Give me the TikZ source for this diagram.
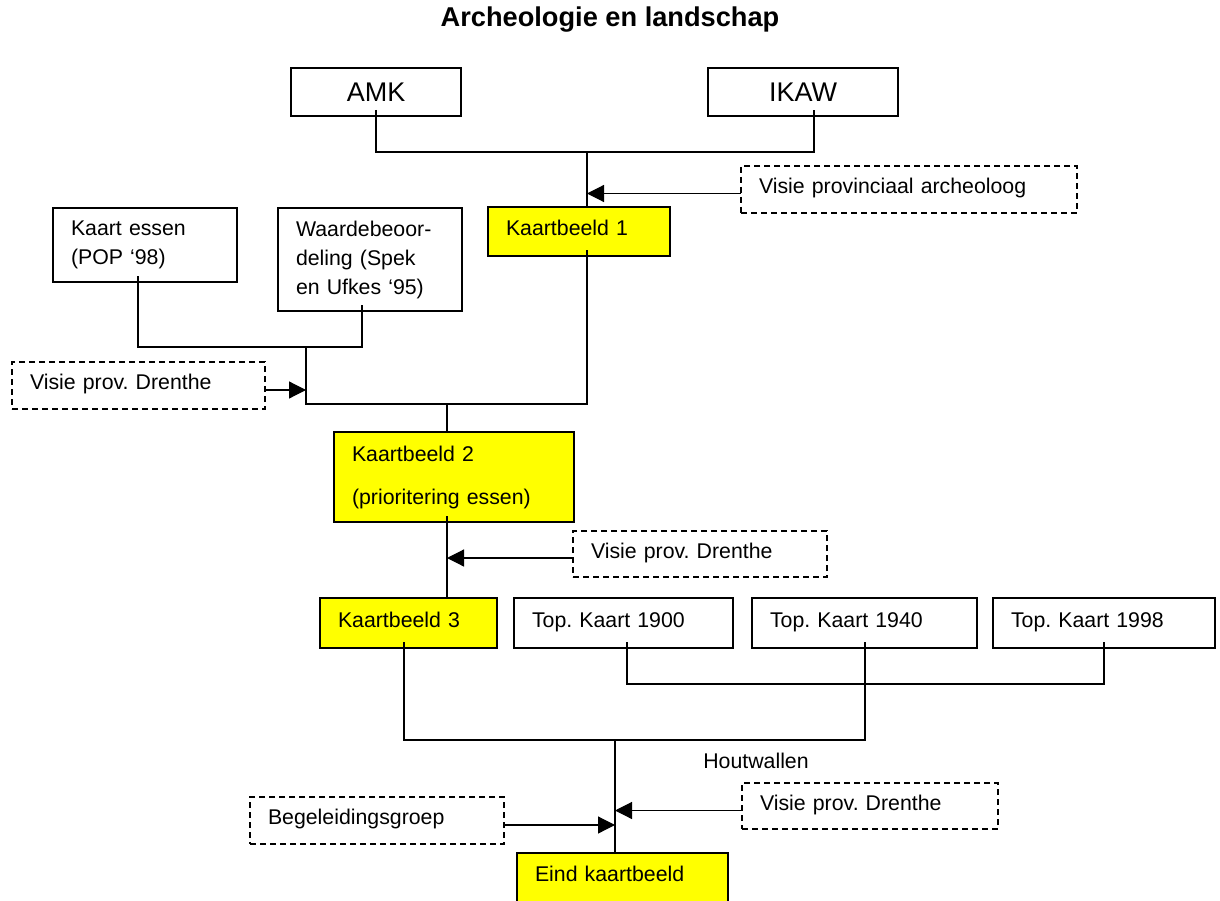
\documentclass[tikz,border=0pt]{standalone}
\usepackage{fontspec}
\setmainfont{Liberation Sans}
\usetikzlibrary{arrows.meta,calc}
\definecolor{yelfill}{HTML}{FFFF00}
\frenchspacing
\tikzset{
  base/.style={draw, line width=1.2pt, inner xsep=18pt, inner ysep=0pt, outer sep=0pt,
    anchor=north west, align=left, font=\fontsize{21.3}{29}\selectfont},
  one/.style={text height=15.3pt, text depth=7pt},
  plainbox/.style={base, fill=white},
  yelbox/.style={base, fill=yelfill},
  dashbox/.style={base, dash pattern=on 6pt off 4pt},
  conn/.style={line width=1.2pt},
  arr/.style={line width=1.2pt, -{Triangle[length=17pt, width=17pt]}},
}
\begin{document}
\begin{tikzpicture}[x=1pt, y=-1pt]
\useasboundingbox (0,0) rectangle (1220,901);

\node[font=\fontsize{27.2}{32}\selectfont\bfseries] (title) at (610,20) {Archeologie en landschap};

% top boxes
\node[plainbox, align=center, font=\fontsize{27}{32}\selectfont, minimum width=170pt, minimum height=48pt, text width=134pt] (amk) at (291,68) {AMK};
\node[plainbox, align=center, font=\fontsize{27}{32}\selectfont, minimum width=190pt, minimum height=48pt, text width=154pt] (ikaw) at (708,68) {IKAW};

\node[dashbox, one, minimum width=336pt, minimum height=47pt, text width=300pt] (va) at (741,166) {Visie provinciaal archeoloog};
\node[yelbox, one, minimum width=182pt, minimum height=49pt, text width=146pt] (k1) at (488,207) {Kaartbeeld 1};

\node[plainbox, minimum width=184pt, minimum height=74pt, text width=148pt] (ke) at (53,208) {Kaart essen\\(POP ‘98)};
\node[plainbox, minimum width=184pt, minimum height=103pt, text width=148pt] (wa) at (278,208) {Waardebeoor-\\deling (Spek\\en Ufkes ‘95)};

\node[dashbox, one, minimum width=253pt, minimum height=47pt, text width=217pt] (vd1) at (12,362) {Visie prov. Drenthe};

\node[yelbox, minimum width=240pt, minimum height=90pt, text width=204pt] (k2) at (334,432) {Kaartbeeld 2\\[14pt](prioritering essen)};

\node[dashbox, one, minimum width=254pt, minimum height=46pt, text width=218pt] (vd2) at (573,531) {Visie prov. Drenthe};

\node[yelbox, one, minimum width=177pt, minimum height=50pt, text width=141pt] (k3) at (320,598) {Kaartbeeld 3};
\node[plainbox, one, minimum width=219pt, minimum height=50pt, text width=183pt] (t1) at (514,598) {Top. Kaart 1900};
\node[plainbox, one, minimum width=225pt, minimum height=50pt, text width=189pt] (t2) at (752,598) {Top. Kaart 1940};
\node[plainbox, one, minimum width=222pt, minimum height=50pt, text width=186pt] (t3) at (993,598) {Top. Kaart 1998};

\node[font=\fontsize{21.3}{29}\selectfont] (hw) at (756,761) {Houtwallen};

\node[dashbox, one, minimum width=256pt, minimum height=46pt, text width=220pt] (vd3) at (742,783) {Visie prov. Drenthe};
\node[dashbox, one, minimum width=254pt, minimum height=47pt, text width=218pt] (bg) at (250,797) {Begeleidingsgroep};
\node[yelbox, one, minimum width=211pt, minimum height=49pt, text width=175pt] (eind) at (517,853) {Eind kaartbeeld};

% junctions
\coordinate (j1) at (587,152);
\coordinate (j2) at (306,347);
\coordinate (j3) at (306,404);
\coordinate (j4) at (447,404);
\coordinate (j6) at (865,684);
\coordinate (j5) at (615,740);

% connector start points inside boxes
\coordinate (amkb) at ([yshift=6pt]amk.south);
\coordinate (ikawb) at ([xshift=11pt,yshift=6pt]ikaw.south);
\coordinate (k1b) at ([xshift=8pt,yshift=6pt]k1.south);
\coordinate (keb) at ([xshift=-7pt,yshift=6pt]ke.south);
\coordinate (wab) at ([xshift=-8pt,yshift=6pt]wa.south);
\coordinate (k2b) at ([xshift=-7pt,yshift=6pt]k2.south);
\coordinate (k3b) at ([xshift=-4.5pt,yshift=6pt]k3.south);
\coordinate (t1b) at ([xshift=3.5pt,yshift=6pt]t1.south);
\coordinate (t2b) at ([xshift=0.5pt,yshift=6pt]t2.south);
\coordinate (t3b) at ([yshift=6pt]t3.south);

% top tree
\draw[conn] (amkb) -- (amkb |- j1) -- (ikawb |- j1) -- (ikawb);
\draw[conn] (j1) -- (j1 |- k1.north);
\coordinate (vao) at ([yshift=-4pt]va.west);
\draw[arr] (vao) -- (vao -| j1);

% essen tree
\draw[conn] (keb) -- (keb |- j2) -- (wab |- j2) -- (wab);
\draw[conn] (j2) -- (j3) -- (k1b |- j3) -- (k1b);
\coordinate (vd1o) at ([yshift=-4.5pt]vd1.east);
\draw[arr] (vd1o) -- (vd1o -| j2);
\draw[conn] (j4) -- (j4 |- k2.north);

% kaartbeeld 2 -> 3
\draw[conn] (k2b) -- (k2b |- k3.north);
\coordinate (vd2o) at ([yshift=-4pt]vd2.west);
\draw[arr] (vd2o) -- (vd2o -| k2b);

% top kaarten
\draw[conn] (t1b) -- (t1b |- j6) -- (t3b |- j6) -- (t3b);
\draw[conn] (t2b) -- (t2b |- j5) -- (k3b |- j5) -- (k3b);
\draw[conn] (j5) -- (j5 |- eind.north);
\coordinate (vd3o) at ([yshift=-4.5pt]vd3.west);
\draw[arr] (vd3o) -- (vd3o -| j5);
\coordinate (bgo) at ([yshift=-4.5pt]bg.east);
\draw[arr] (bgo) -- (bgo -| j5);
\end{tikzpicture}
\end{document}
